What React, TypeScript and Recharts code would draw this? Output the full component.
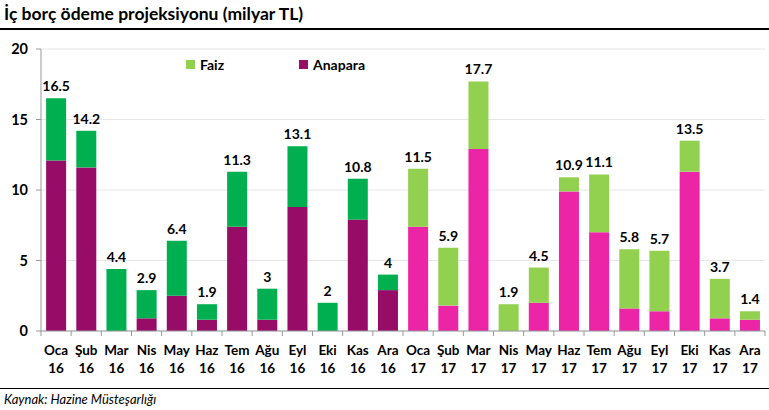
import React from 'react';
import { BarChart, Bar, XAxis, YAxis, CartesianGrid, Cell, LabelList, Legend } from 'recharts';

const months = ['Oca', 'Şub', 'Mar', 'Nis', 'May', 'Haz', 'Tem', 'Ağu', 'Eyl', 'Eki', 'Kas', 'Ara',
  'Oca', 'Şub', 'Mar', 'Nis', 'May', 'Haz', 'Tem', 'Ağu', 'Eyl', 'Eki', 'Kas', 'Ara'];
const years = ['16', '16', '16', '16', '16', '16', '16', '16', '16', '16', '16', '16',
  '17', '17', '17', '17', '17', '17', '17', '17', '17', '17', '17', '17'];
const anapara = [12.1, 11.6, 0, 0.9, 2.5, 0.8, 7.4, 0.8, 8.8, 0, 7.9, 2.9,
  7.4, 1.8, 12.9, 0, 2.0, 9.9, 7.0, 1.6, 1.4, 11.3, 0.9, 0.8];
const totals = [16.5, 14.2, 4.4, 2.9, 6.4, 1.9, 11.3, 3, 13.1, 2, 10.8, 4,
  11.5, 5.9, 17.7, 1.9, 4.5, 10.9, 11.1, 5.8, 5.7, 13.5, 3.7, 1.4];
const yTicks = [0, 5, 10, 15, 20];

const data = months.map((m, i) => ({
  key: `${m} ${years[i]}`,
  month: m,
  year: years[i],
  anapara: anapara[i],
  faiz: Math.round((totals[i] - anapara[i]) * 10) / 10,
  total: totals[i],
}));

const COL = {
  anapara16: '#960c66',
  faiz16: '#00b050',
  anapara17: '#ec25a6',
  faiz17: '#92d050',
};

const FONT = 'Lato, "Open Sans", sans-serif';
const W = 769;
const H = 410;
const LEFT = 41;
const RIGHT = 4;
const BAND = (W - LEFT - RIGHT) / data.length;

const XTick = (props: any) => {
  const { x, y, payload, index } = props;
  const d = data[index] || data.find((e) => e.key === payload.value);
  return (
    <g>
      <line x1={x - BAND / 2} x2={x - BAND / 2} y1={y - 8} y2={y - 3} stroke="#999" />
      {index === data.length - 1 && (
        <line x1={x + BAND / 2} x2={x + BAND / 2} y1={y - 8} y2={y - 3} stroke="#999" />
      )}
      <text x={x} y={y + 16} textAnchor="middle" fontFamily={FONT} fontWeight={700} fontSize={13.5} fill="#000">
        {d ? d.month : ''}
      </text>
      <text x={x} y={y + 34} textAnchor="middle" fontFamily={FONT} fontWeight={700} fontSize={13.5} fill="#000">
        {d ? d.year : ''}
      </text>
    </g>
  );
};

const TopLabel = (props: any) => {
  const { x, y, width, index } = props;
  const d = data[index];
  return (
    <text x={x + width / 2} y={y - 7} textAnchor="middle" fontFamily={FONT} fontWeight={700} fontSize={14} fill="#000">
      {d.total}
    </text>
  );
};

const LegendContent = () => (
  <div style={{ position: 'relative', height: 0 }}>
    <div style={{ position: 'absolute', left: 186, top: 0, display: 'flex', alignItems: 'center', fontFamily: FONT, fontWeight: 700, fontSize: 14 }}>
      <span style={{ width: 9, height: 9, background: COL.faiz17, display: 'inline-block', marginRight: 5 }} />
      Faiz
    </div>
    <div style={{ position: 'absolute', left: 299, top: 0, display: 'flex', alignItems: 'center', fontFamily: FONT, fontWeight: 700, fontSize: 14 }}>
      <span style={{ width: 9, height: 9, background: COL.anapara16, display: 'inline-block', marginRight: 5 }} />
      Anapara
    </div>
  </div>
);

export default function App() {
  return (
    <div style={{ position: 'absolute', left: 0, top: 0, width: W, height: H, background: '#fff', overflow: 'hidden' }}>
      <div style={{ position: 'absolute', left: 4, top: 3, fontFamily: FONT, fontWeight: 700, fontSize: 17.5, color: '#000', whiteSpace: 'nowrap' }}>
        İç borç ödeme projeksiyonu (milyar TL)
      </div>
      <div style={{ position: 'absolute', left: 0, top: 28, width: W, height: 2, background: '#000' }} />
      <BarChart
        width={W}
        height={H}
        data={data}
        margin={{ top: 49, right: RIGHT, left: 0, bottom: 29 }}
        barCategoryGap="17%"
        style={{ position: 'absolute', left: 0, top: 0 }}
      >
        <CartesianGrid vertical={false} stroke="#e6e6ea" />
        <XAxis
          dataKey="key"
          interval={0}
          tickLine={false}
          axisLine={{ stroke: '#999' }}
          height={50}
          tick={<XTick />}
        />
        <YAxis
          domain={[0, 20]}
          ticks={yTicks}
          width={LEFT}
          axisLine={{ stroke: '#999' }}
          tickLine={{ stroke: '#999' }}
          tickSize={5}
          tick={{ fontFamily: FONT, fontWeight: 700, fontSize: 14.5, fill: '#000', dx: -6 }}
        />
        <Legend verticalAlign="top" align="left" content={<LegendContent />} wrapperStyle={{ top: 56, left: 0 }} />
        <Bar dataKey="anapara" stackId="a" isAnimationActive={false}>
          {data.map((d, i) => (
            <Cell key={i} fill={i < 12 ? COL.anapara16 : COL.anapara17} />
          ))}
        </Bar>
        <Bar dataKey="faiz" stackId="a" isAnimationActive={false}>
          {data.map((d, i) => (
            <Cell key={i} fill={i < 12 ? COL.faiz16 : COL.faiz17} />
          ))}
          <LabelList dataKey="total" content={<TopLabel />} />
        </Bar>
      </BarChart>
      <div style={{ position: 'absolute', left: 0, top: 388, width: W, height: 1, background: '#000' }} />
      <div style={{ position: 'absolute', left: 4, top: 391, fontFamily: FONT, fontStyle: 'italic', fontSize: 13, color: '#000', whiteSpace: 'nowrap' }}>
        Kaynak: Hazine Müsteşarlığı
      </div>
    </div>
  );
}
